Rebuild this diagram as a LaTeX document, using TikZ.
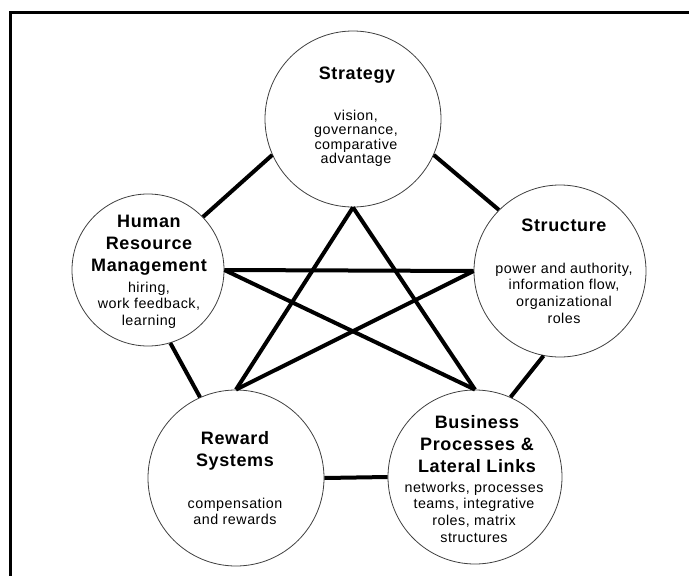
\documentclass[tikz,border=0pt]{standalone}
\usepackage{fontspec}
\setmainfont{Liberation Sans}
\newfontfamily\ttlfont[LetterSpace=3.5]{Liberation Sans}
\newfontfamily\bodyfont[LetterSpace=3.5]{Liberation Sans}
\begin{document}
\begin{tikzpicture}[x=1pt,y=-1pt,
  ring/.style={circle,draw=black!75,line width=0.8pt,inner sep=0pt,fill=white},
  link/.style={line width=4pt,line cap=butt},
  ttl/.style={align=center,font=\ttlfont\fontsize{18}{22}\selectfont\bfseries,inner sep=0pt},
  body/.style={align=center,font=\bodyfont\fontsize{14.3}{16.7}\selectfont,inner sep=0pt}]
\useasboundingbox (0,0) rectangle (689,576);
\coordinate (fa) at (689,12);
\coordinate (fb) at (10.5,12);
\coordinate (fc) at (10.5,576);
\draw[line width=3pt] (fa) -- (fb) -- (fc);

\node[ring,minimum size=176pt] (strat) at (353,119) {};
\node[ring,minimum size=152pt] (hrm) at (148,270) {};
\node[ring,minimum size=172pt] (struct) at (560,271) {};
\node[ring,minimum size=176pt] (rew) at (236,478) {};
\node[ring,minimum size=174pt] (bus) at (475,477) {};

% pentagon
\draw[link] (strat.204) -- (hrm.44);
\draw[link] (strat.-24) -- (struct.135.5);
\draw[link] (hrm.-73.6) -- (rew.114.2);
\draw[link] (struct.-101) -- (bus.66);
\draw[link] (rew.east) -- (bus.west);
% star
\draw[link] (hrm.east) -- (struct.west);
\draw[link] (hrm.east) -- (bus.north);
\draw[link] (strat.south) -- (rew.north);
\draw[link] (strat.south) -- (bus.north);
\draw[link] (rew.north) -- (struct.west);

\node[ttl] (strat-t) at (357,75) {Strategy};
\node[body,font=\bodyfont\fontsize{14.3}{14.5}\selectfont] (strat-b) at (356,138.5) {vision,\\governance,\\comparative\\advantage};

\node[ttl] (hrm-t) at (149,245) {Human\\Resource\\Management};
\node[body] (hrm-b) at (149,305) {hiring,\\work feedback,\\learning};

\node[ttl] (struct-t) at (564,225) {Structure};
\node[body] (struct-b) at (564,293) {power and authority,\\information flow,\\organizational\\roles};

\node[ttl] (rew-t) at (235,451) {Reward\\Systems};
\node[body] (rew-b) at (235,511.5) {compensation\\and rewards};

\node[ttl] (bus-t) at (477,444) {Business\\Processes \&\\Lateral Links};
\node[body] (bus-b) at (474,512) {networks, processes\\teams, integrative\\roles, matrix\\structures};
\end{tikzpicture}
\end{document}
